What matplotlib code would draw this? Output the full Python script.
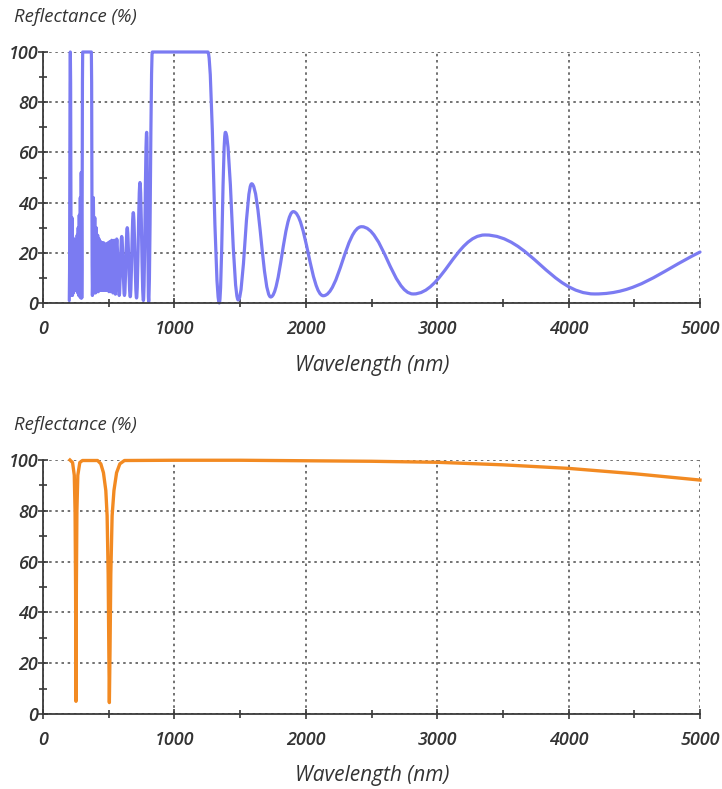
import matplotlib
matplotlib.use('Agg')
import matplotlib.pyplot as plt
from matplotlib.path import Path
from matplotlib.patches import PathPatch
from matplotlib.ticker import MultipleLocator

BLUE_COLOR   = '#7B7BF2'
ORANGE_COLOR = '#F28A22'
TEXT_COLOR   = '#333333'
AXIS_COLOR   = '#3a3a3a'
GRID_COLOR   = '#5a5a5a'

# top chart: turning points of the reflectance curve (nm, %)
top_x = [200, 208, 216,
         220, 224, 228, 232, 236, 240, 244, 248, 252, 256, 260, 264, 268, 272, 276, 280, 284, 288, 291, 295,
         302, 368, 376,
         383, 388, 394, 399, 405, 410, 416, 421, 427, 432, 438, 443, 449, 455, 461, 466, 472, 478, 484,
         490, 496, 502, 509, 516, 523, 532, 542, 551, 561, 580, 599, 620, 641, 664, 687, 712, 738, 764, 789, 804,
         832, 1255, 1342,
         1388, 1486, 1588, 1733, 1905, 2133, 2425, 2818, 3364, 4200, 5000]
top_y = [1, 100, 3,
         34, 3, 26, 4, 24, 5, 24, 5.5, 25, 5, 27, 4, 30, 3, 35, 2.5, 42, 2, 52, 2,
         100, 100, 3,
         42, 4, 34, 4, 30, 4.5, 27, 4.5, 25.5, 5, 24.5, 5, 24, 5, 24, 5, 23.5, 5, 23.5,
         5, 24, 4.5, 24.5, 4.5, 25, 4, 25, 3.5, 25.5, 3, 26.5, 3, 30, 2.5, 36, 2, 48, 1, 68, 0.5,
         100, 100, 0,
         68, 1.2, 47.5, 2.4, 36.4, 2.9, 30.4, 3.6, 27.1, 3.6, 20.3]
top_end_slope = 0.026  # %/nm where the curve leaves the plot

# bottom chart: reflectance (nm, %)
bot_x = [205, 225, 238, 244, 248, 251, 254, 258, 265, 280, 300,
         415, 440, 460, 478, 488, 496, 501, 505, 510, 516, 526, 540, 560, 585, 620,
         1000, 1500, 2000, 2500, 3000, 3500, 4000, 4500, 5000]
bot_y = [100, 99, 94, 80, 50, 5, 50, 80, 94, 99, 99.8,
         99.8, 98.5, 95, 88, 78, 55, 25, 4.5, 25, 55, 78, 88, 95, 98.5, 99.8,
         99.9, 99.9, 99.7, 99.5, 99.1, 98.1, 96.7, 94.6, 92.1]

x_ticks = [0, 1000, 2000, 3000, 4000, 5000]
y_ticks = [0, 20, 40, 60, 80, 100]


def smooth_path(xs, ys, k=0.4, end_slope=None):
    verts = [(xs[0], ys[0])]
    codes = [Path.MOVETO]
    for i in range(1, len(xs)):
        dx = xs[i] - xs[i - 1]
        y_end_ctrl = ys[i]
        if end_slope is not None and i == len(xs) - 1:
            y_end_ctrl = ys[i] - end_slope * k * dx
        verts += [(xs[i - 1] + k * dx, ys[i - 1]), (xs[i] - k * dx, y_end_ctrl), (xs[i], ys[i])]
        codes += [Path.CURVE4] * 3
    return Path(verts, codes)


def style_axes(ax):
    ax.set_xlim(0, 5000)
    ax.set_ylim(0, 100)
    ax.set_xticks(x_ticks)
    ax.set_yticks(y_ticks)
    ax.xaxis.set_minor_locator(MultipleLocator(500))
    ax.yaxis.set_minor_locator(MultipleLocator(10))
    for s in ['top', 'right']:
        ax.spines[s].set_visible(False)
    for s in ['left', 'bottom']:
        ax.spines[s].set_color(AXIS_COLOR)
        ax.spines[s].set_linewidth(1.3)
    ax.tick_params(which='both', direction='inout', color=AXIS_COLOR, width=1.2)
    ax.tick_params(which='major', length=7)
    ax.tick_params(which='minor', length=6)
    ax.tick_params(axis='x', pad=9)
    ax.tick_params(axis='y', pad=0)
    ax.grid(True, which='major', color=GRID_COLOR, linestyle=(0, (1.5, 2.2)), linewidth=1.2)
    ax.set_axisbelow(True)
    for lab in ax.get_xticklabels() + ax.get_yticklabels():
        lab.set_fontfamily('Open Sans')
        lab.set_fontstyle('italic')
        lab.set_fontweight('semibold')
        lab.set_fontsize(13)
        lab.set_color(TEXT_COLOR)


fig = plt.figure(figsize=(7.22, 7.89), dpi=100)
ax1 = fig.add_axes((43 / 722, 1 - 303 / 789, 657 / 722, 251 / 789))
ax2 = fig.add_axes((43 / 722, 1 - 714 / 789, 657 / 722, 254 / 789))

style_axes(ax1)
style_axes(ax2)

ax1.add_patch(PathPatch(smooth_path(top_x, top_y, end_slope=top_end_slope), fill=False,
                        edgecolor=BLUE_COLOR, lw=2.3, joinstyle='round', capstyle='round', clip_on=False))
ax2.plot(bot_x, bot_y, color=ORANGE_COLOR, lw=2.4, solid_joinstyle='round', clip_on=False)

ylab_kw = dict(family='Open Sans', style='italic', fontsize=13.3, color=TEXT_COLOR)
xlab_kw = dict(family='Open Sans', style='italic', fontsize=15, color=TEXT_COLOR)
fig.text(14 / 722, 1 - 17 / 789, 'Reflectance (%)', ha='left', va='center', **ylab_kw)
fig.text(14 / 722, 1 - 425 / 789, 'Reflectance (%)', ha='left', va='center', **ylab_kw)
fig.text(372 / 722, 1 - 366 / 789, 'Wavelength (nm)', ha='center', va='center', **xlab_kw)
fig.text(372 / 722, 1 - 775 / 789, 'Wavelength (nm)', ha='center', va='center', **xlab_kw)

fig.savefig('out.png', dpi=100, facecolor='white')
